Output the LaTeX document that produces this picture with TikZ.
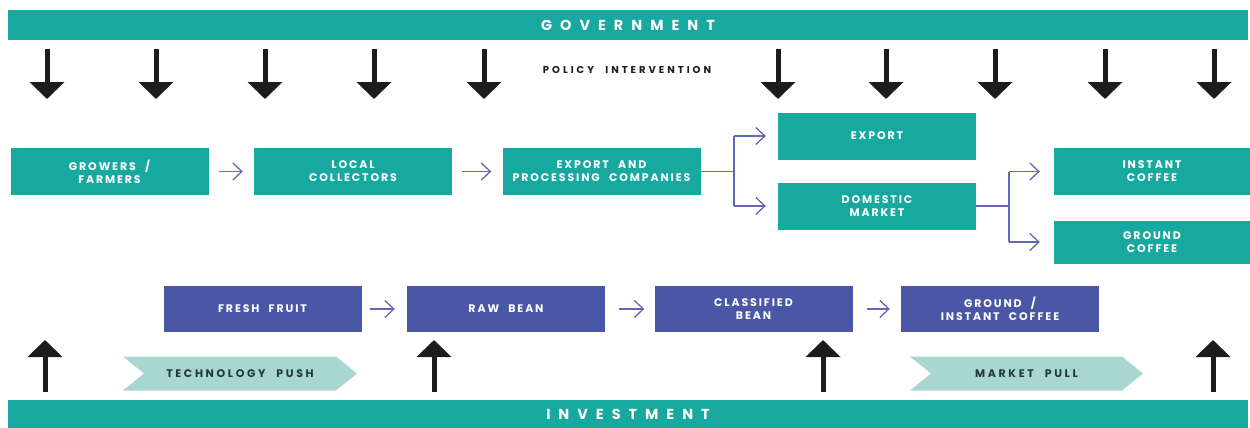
\documentclass[tikz,border=0pt]{standalone}
\usepackage{fontspec}
\setmainfont{Poppins}
\newfontfamily\boxfont[LetterSpace=17,WordSpace=2.2]{Poppins}
\newfontfamily\chevfont[LetterSpace=24,WordSpace=2.2]{Poppins}
\newfontfamily\policyfont[LetterSpace=30,WordSpace=2.2]{Poppins}
\newfontfamily\barfont[LetterSpace=55]{Poppins}
\usetikzlibrary{arrows.meta,shapes.symbols}
\definecolor{teal1}{HTML}{17A99F}
\definecolor{purp}{HTML}{4A56A6}
\definecolor{conn}{HTML}{6466B8}
\definecolor{chev}{HTML}{A8D6D3}
\definecolor{blk}{HTML}{1C1C1C}
\definecolor{chevtxt}{HTML}{223838}
\tikzset{
  bar/.style={fill=teal1, minimum width=1240pt, minimum height=30pt, inner sep=0pt,
    text=white, font=\barfont\bfseries\fontsize{14.5}{16}\selectfont},
  tbox/.style={fill=teal1, minimum width=198pt, minimum height=47pt, inner sep=0pt,
    text=white, align=center, font=\boxfont\bfseries\fontsize{11}{13}\selectfont},
  pbox/.style={tbox, fill=purp},
  chevron/.style={shape=signal, signal from=west, signal to=east, signal pointer angle=78,
    fill=chev, minimum width=234pt, minimum height=34pt, inner sep=0pt,
    text=chevtxt, font=\chevfont\bfseries\fontsize{11}{12}\selectfont},
  flow/.style={draw=conn, line width=1.3pt, -{Straight Barb[length=9pt,width=17pt,line width=1.3pt]}},
  branch/.style={draw=conn, line width=1.6pt},
  bigarrow/.style={draw=blk, line width=5pt, -{Triangle[length=17pt,width=34pt]}},
}
\begin{document}
\begin{tikzpicture}[x=1pt,y=-1pt]
\useasboundingbox (0,0) rectangle (1250,428);
% bars
\node[bar] (gov) at (628,25) {GOVERNMENT};
\node[bar, minimum height=28pt] (inv) at (628,414) {INVESTMENT};
\node[font=\policyfont\bfseries\fontsize{10}{11}\selectfont, text=blk, inner sep=0pt] (policy) at (627,70) {POLICY INTERVENTION};
% top row
\node[tbox] (grow) at (109.5,171.5) {GROWERS /\\FARMERS};
\node[tbox] (local) at (353,171.5) {LOCAL\\COLLECTORS};
\node[tbox] (epc) at (601.5,171.5) {EXPORT AND\\PROCESSING COMPANIES};
\node[tbox] (export) at (877,136) {EXPORT};
\node[tbox] (dom) at (877,206) {DOMESTIC\\MARKET};
\node[tbox, minimum width=196pt] (inst) at (1152,171.5) {INSTANT\\COFFEE};
\node[tbox, minimum width=196pt, minimum height=43pt] (grnd) at (1152,242) {GROUND\\COFFEE};
% bottom row
\node[pbox, minimum height=46pt] (fresh) at (262.5,309) {FRESH FRUIT};
\node[pbox, minimum height=46pt] (raw) at (506,309) {RAW BEAN};
\node[pbox, minimum height=46pt] (cls) at (753.5,309) {CLASSIFIED\\BEAN};
\node[pbox, minimum height=46pt] (gi) at (1000,309) {GROUND /\\INSTANT COFFEE};
% chevrons
\node[chevron] (tech) at (240,373.5) {TECHNOLOGY PUSH};
\node[chevron, minimum width=233pt] (mkt) at (1026.5,373.5) {MARKET PULL};
% flow arrows
\draw[flow] ([xshift=10pt]grow.east) -- ([xshift=-11pt]local.west);
\draw[flow] ([xshift=10pt]local.east) -- ([xshift=-11pt]epc.west);
\draw[flow] ([xshift=8pt]fresh.east) -- ([xshift=-12pt]raw.west);
\draw[flow] ([xshift=14pt]raw.east) -- ([xshift=-10pt]cls.west);
\draw[flow] ([xshift=14pt]cls.east) -- ([xshift=-11pt]gi.west);
% branches
\coordinate (j1) at ([xshift=33pt]epc.east);
\draw[branch] (epc.east) -- (j1);
\draw[branch] (j1 |- export) -- (j1 |- dom);
\draw[flow, line width=1.6pt] (j1 |- export) -- ([xshift=-12pt]export.west);
\draw[flow, line width=1.6pt] (j1 |- dom) -- ([xshift=-12pt]dom.west);
\coordinate (j2) at ([xshift=33pt]dom.east);
\draw[branch] (dom.east) -- (j2);
\draw[branch] (j2 |- inst) -- (j2 |- grnd);
\draw[flow, line width=1.6pt] (j2 |- inst) -- ([xshift=-14pt]inst.west);
\draw[flow, line width=1.6pt] (j2 |- grnd) -- ([xshift=-14pt]grnd.west);
% policy arrows
\foreach \i/\x in {1/47,2/156,3/265,4/374,5/484,6/778,7/886,8/995,9/1105,10/1214}{
  \coordinate (ds\i) at (\x,49);
  \coordinate (de\i) at (\x,99);
  \draw[bigarrow] (ds\i) -- (de\i);
}
% investment arrows
\foreach \i/\x in {1/45,2/434,3/823,4/1213}{
  \coordinate (us\i) at (\x,392);
  \coordinate (ue\i) at (\x,340);
  \draw[bigarrow] (us\i) -- (ue\i);
}
\end{tikzpicture}
\end{document}
